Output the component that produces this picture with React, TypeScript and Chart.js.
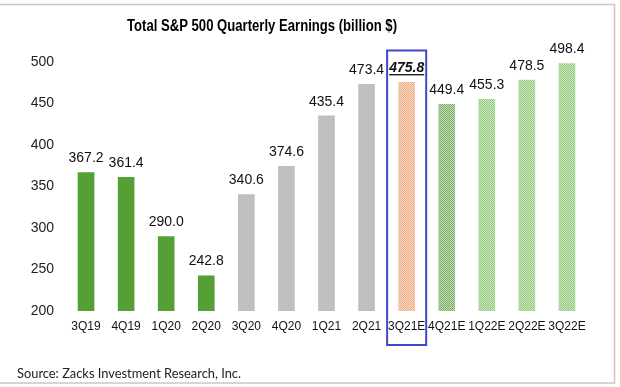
import React, { useEffect, useRef } from "react";
import { Chart, registerables } from "chart.js";

Chart.register(...registerables);

const categories = ["3Q19", "4Q19", "1Q20", "2Q20", "3Q20", "4Q20", "1Q21", "2Q21", "3Q21E", "4Q21E", "1Q22E", "2Q22E", "3Q22E"];
const earnings = [367.2, 361.4, 290.0, 242.8, 340.6, 374.6, 435.4, 473.4, 475.8, 449.4, 455.3, 478.5, 498.4];
const valueLabels = ["367.2", "361.4", "290.0", "242.8", "340.6", "374.6", "435.4", "473.4", "475.8", "449.4", "455.3", "478.5", "498.4"];
const groups = ["pre", "pre", "pre", "pre", "post", "post", "post", "post", "current", "nextEst", "est", "est", "est"];
const yTicks = [200, 250, 300, 350, 400, 450, 500];
const highlightIndex = 8;
const titleText = "Total S&P 500 Quarterly Earnings (billion $)";
const sourceText = "Source: Zacks Investment Research, Inc.";

const FONT = "'Liberation Sans', Arial, sans-serif";

function hatch(ctx: CanvasRenderingContext2D, a: string, b: string) {
  const c = document.createElement("canvas");
  c.width = 2;
  c.height = 2;
  const g = c.getContext("2d")!;
  g.fillStyle = b;
  g.fillRect(0, 0, 2, 2);
  g.fillStyle = a;
  g.fillRect(0, 0, 1, 1);
  g.fillRect(1, 1, 1, 1);
  return ctx.createPattern(c, "repeat")!;
}

export default function App() {
  const ref = useRef<HTMLCanvasElement | null>(null);

  useEffect(() => {
    const canvas = ref.current!;
    const ctx = canvas.getContext("2d")!;
    const styleFor: Record<string, any> = {
      pre: "#55A035",
      post: "#BFBFBF",
      current: hatch(ctx, "#EFAA80", "#F9DDCB"),
      nextEst: hatch(ctx, "#82B06E", "#BCD9AF"),
      est: hatch(ctx, "#92CA7B", "#CDE8C1"),
    };
    const colors = groups.map((g) => styleFor[g]);

    const decor = {
      id: "decor",
      beforeDraw(chart: any) {
        const c = chart.ctx;
        c.save();
        c.fillStyle = "#FFFFFF";
        c.fillRect(0, 0, chart.width, chart.height);
        c.strokeStyle = "#C8C8C8";
        c.lineWidth = 1.5;
        c.strokeRect(-2, 4.5, 616.5, 378.5);
        c.restore();
      },
      afterDatasetsDraw(chart: any) {
        const c = chart.ctx;
        const meta = chart.getDatasetMeta(0);
        const x = chart.scales.x;
        const y = chart.scales.y;
        c.save();
        // title
        c.fillStyle = "#000";
        c.font = `bold 16px ${FONT}`;
        c.textAlign = "center";
        c.textBaseline = "middle";
        c.fillText(titleText, 262, 27, 270);
        // value labels
        meta.data.forEach((bar: any, i: number) => {
          const isHi = i === highlightIndex;
          c.font = isHi ? `italic bold 14px ${FONT}` : `14px ${FONT}`;
          c.textAlign = "center";
          c.textBaseline = "alphabetic";
          c.fillStyle = "#111";
          const ty = bar.y - 10;
          c.fillText(valueLabels[i], bar.x, ty, 36);
          if (isHi) {
            const w = Math.min(36, c.measureText(valueLabels[i]).width);
            c.fillRect(bar.x - w / 2, ty + 2, w, 1.3);
          }
        });
        // highlight box
        const cx = x.getPixelForValue(highlightIndex);
        const half = (x.getPixelForValue(1) - x.getPixelForValue(0)) / 2 - 0.5;
        const top = y.getPixelForValue(500) - 11.5;
        const bottom = y.getPixelForValue(200) + 34;
        c.strokeStyle = "#3F48CC";
        c.lineWidth = 2;
        c.strokeRect(cx - half, top, half * 2, bottom - top);
        // source
        c.fillStyle = "#222";
        c.font = "14px Lato, 'Open Sans', sans-serif";
        c.textAlign = "left";
        c.textBaseline = "middle";
        c.fillText(sourceText, 17, 373, 224);
        c.restore();
      },
    };

    const chart = new Chart(canvas, {
      type: "bar",
      data: {
        labels: categories,
        datasets: [
          {
            data: earnings,
            backgroundColor: colors,
            borderWidth: 0,
            base: 200,
            barPercentage: 0.415,
            categoryPercentage: 1,
          } as any,
        ],
      },
      options: {
        animation: false,
        responsive: false,
        maintainAspectRatio: false,
        layout: { padding: { top: 62, right: 33, bottom: 0, left: 0 } },
        plugins: {
          legend: { display: false },
          title: { display: false },
          tooltip: { enabled: false },
        },
        scales: {
          x: {
            grid: { display: false, drawTicks: false },
            border: { display: false },
            ticks: { color: "#111", font: { family: FONT, size: 12 }, padding: 8, maxRotation: 0, autoSkip: false },
            afterFit: (s: any) => {
              s.height = 76;
            },
          },
          y: {
            min: 200,
            max: 500,
            grid: { display: false, drawTicks: false },
            border: { display: false },
            afterBuildTicks: (s: any) => {
              s.ticks = yTicks.map((v) => ({ value: v }));
            },
            ticks: { color: "#222", font: { family: FONT, size: 14 }, padding: 12 },
            afterFit: (s: any) => {
              s.width = 66;
            },
          },
        },
      },
      plugins: [decor],
    });
    return () => chart.destroy();
  }, []);

  return (
    <div style={{ position: "fixed", left: 0, top: 0, width: 620, height: 387 }}>
      <canvas ref={ref} width={620} height={387} />
    </div>
  );
}
